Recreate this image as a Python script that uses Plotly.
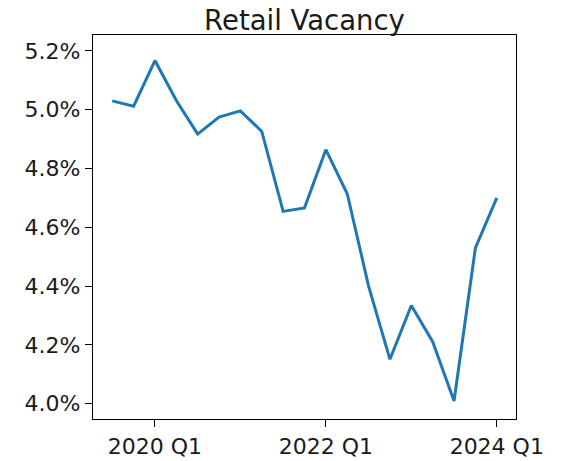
import plotly.graph_objects as go

quarters = [
    "2019 Q3", "2019 Q4", "2020 Q1", "2020 Q2", "2020 Q3", "2020 Q4",
    "2021 Q1", "2021 Q2", "2021 Q3", "2021 Q4", "2022 Q1", "2022 Q2",
    "2022 Q3", "2022 Q4", "2023 Q1", "2023 Q2", "2023 Q3", "2023 Q4",
    "2024 Q1",
]
vacancy = [
    5.030, 5.012, 5.167, 5.031, 4.917, 4.975, 4.996, 4.926, 4.654, 4.666,
    4.864, 4.714, 4.400, 4.151, 4.334, 4.211, 4.009, 4.530, 4.700,
]
x_ticks = ["2020 Q1", "2022 Q1", "2024 Q1"]
y_ticks = [4.0, 4.2, 4.4, 4.6, 4.8, 5.0, 5.2]

fig = go.Figure()
fig.add_trace(
    go.Scatter(
        x=quarters,
        y=vacancy,
        mode="lines",
        line=dict(color="#1f77b4", width=3),
        showlegend=False,
    )
)

axis_style = dict(
    showline=True,
    linecolor="black",
    linewidth=1.3,
    mirror=True,
    ticks="outside",
    ticklen=7,
    tickwidth=1.3,
    tickcolor="black",
    showgrid=False,
    zeroline=False,
    automargin=False,
    tickfont=dict(size=22, color="#1a1a1a"),
)

fig.update_xaxes(
    type="category",
    range=[-0.9, 18.9],
    tickmode="array",
    tickvals=x_ticks,
    ticktext=x_ticks,
    **axis_style,
)
fig.update_yaxes(
    range=[3.948, 5.254],
    tickmode="array",
    tickvals=y_ticks,
    ticktext=[f"{v:.1f}%" for v in y_ticks],
    **axis_style,
)

fig.update_layout(
    width=561,
    height=461,
    font=dict(family="DejaVu Sans", color="#1a1a1a"),
    title=dict(
        text="Retail Vacancy",
        x=(93 + 516) / 2 / 561,
        xanchor="center",
        y=1 - 20 / 461,
        yanchor="middle",
        font=dict(size=27.5, color="#1a1a1a"),
        automargin=False,
    ),
    plot_bgcolor="white",
    paper_bgcolor="white",
    margin=dict(l=93, r=45, t=35, b=41.5, autoexpand=False),
)

# page body has an 8px default margin; drop it so the figure sits at 0,0
fig.write_html(
    "out.html",
    config={"displayModeBar": False},
    post_script="document.body.style.margin='0';",
)
